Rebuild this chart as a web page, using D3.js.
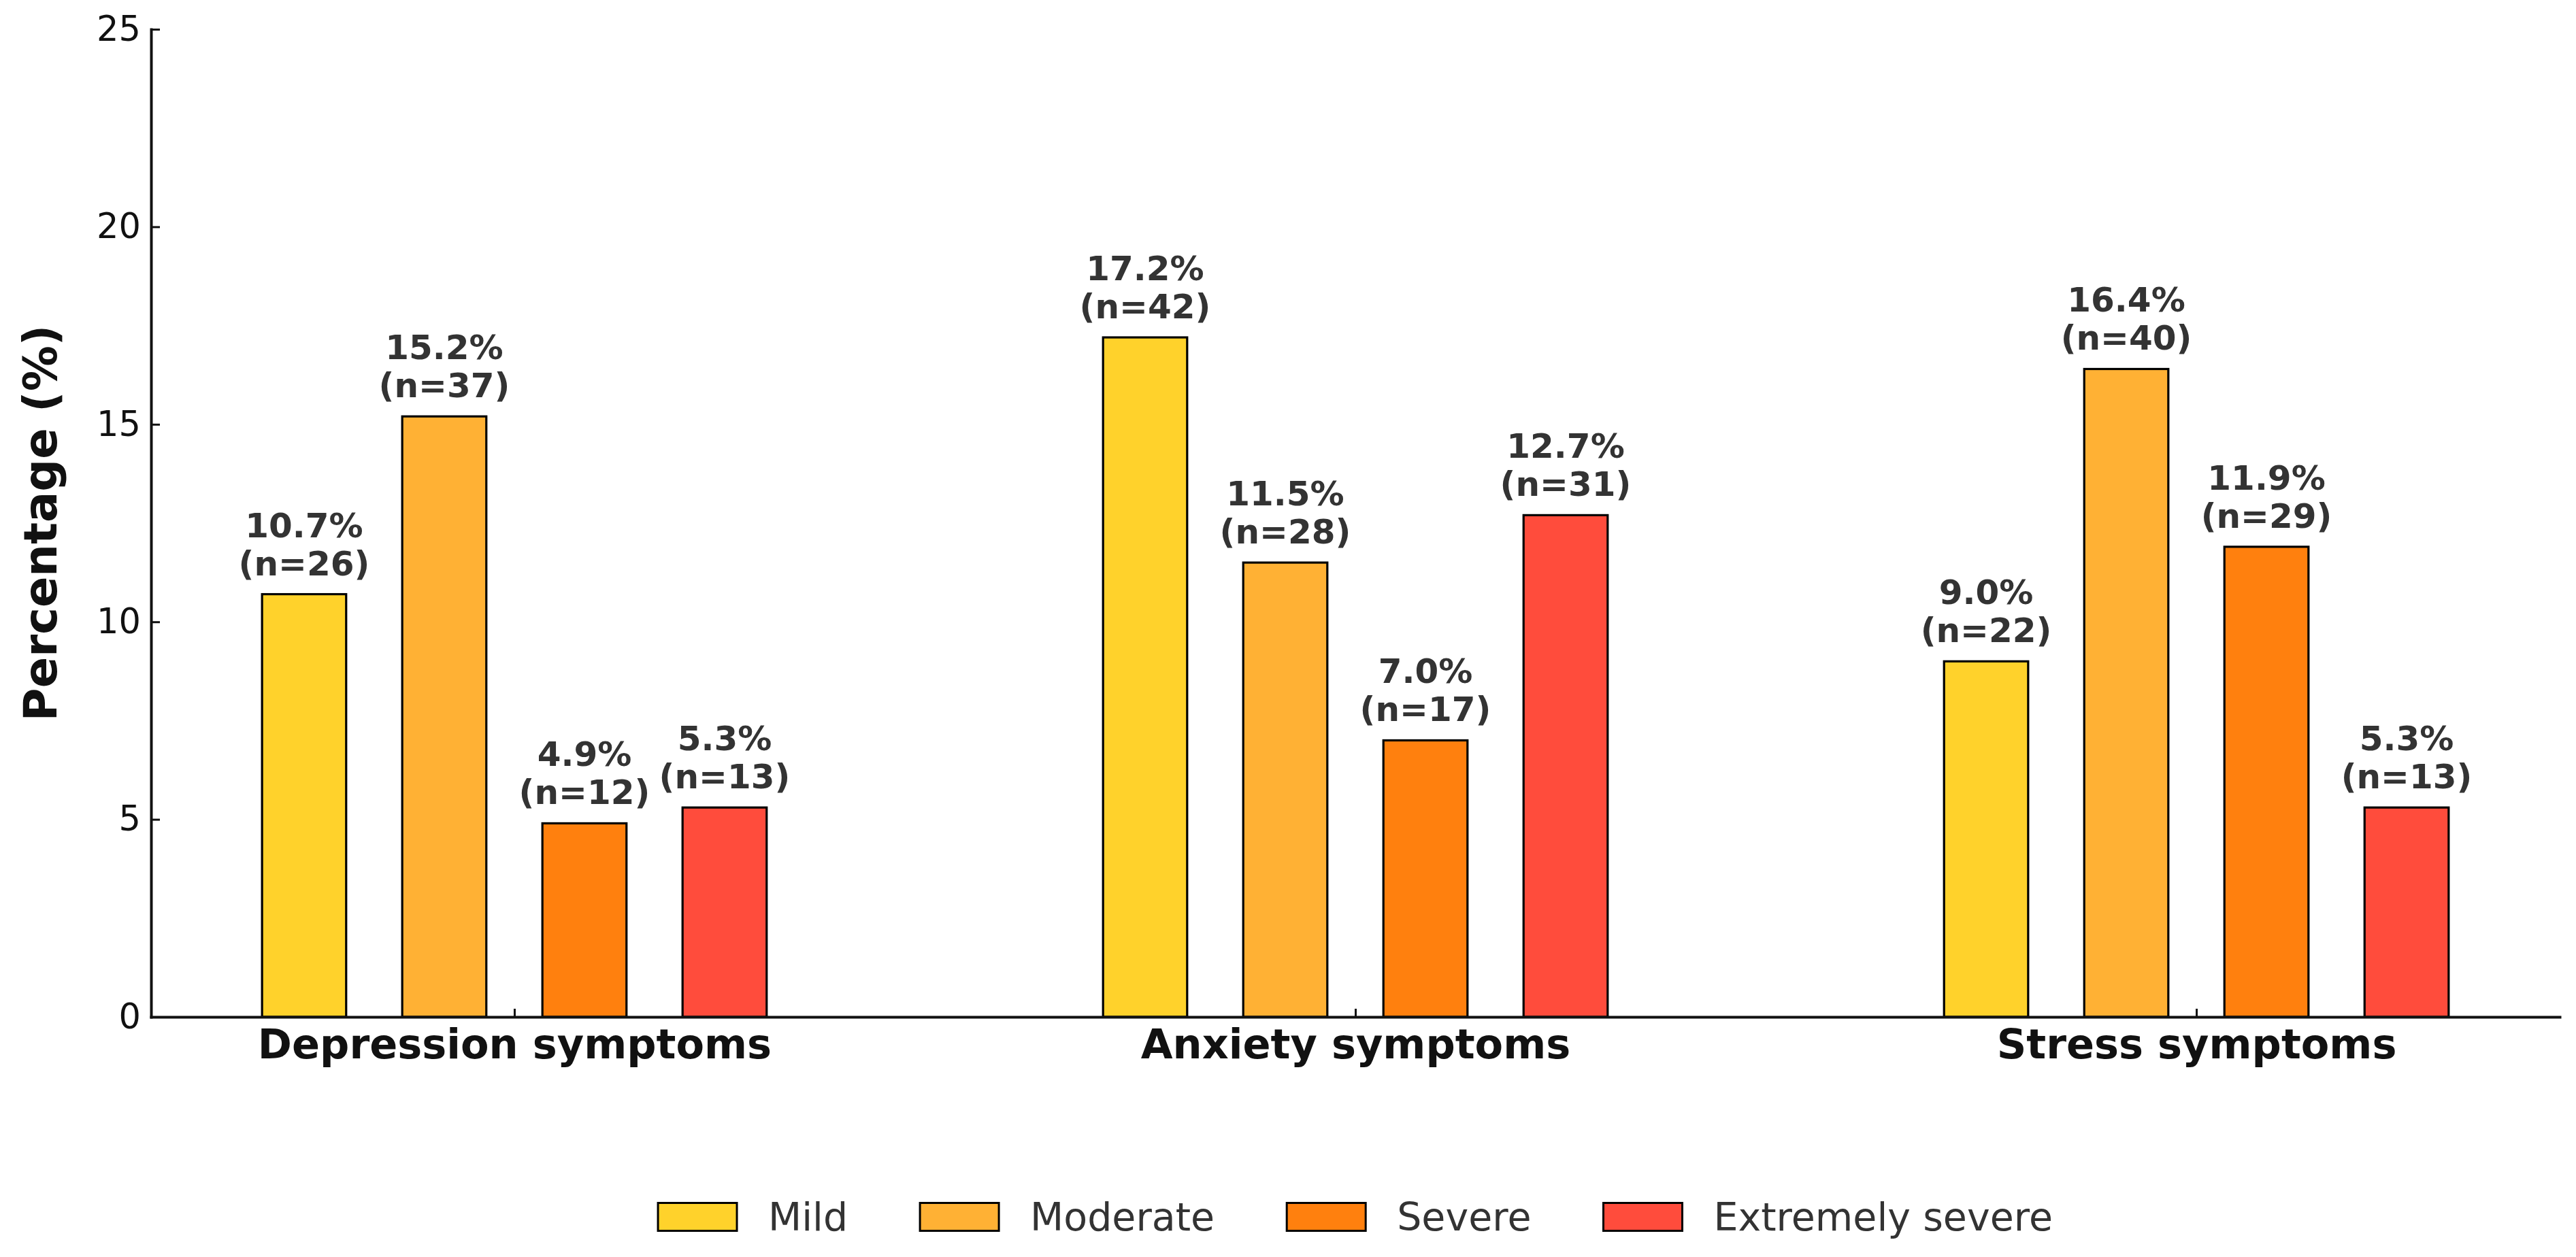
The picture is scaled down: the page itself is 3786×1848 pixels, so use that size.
<!DOCTYPE html>
<html>
<head>
<meta charset="utf-8">
<script src="https://cdn.jsdelivr.net/npm/d3@7/dist/d3.min.js"></script>
<style>
  html, body { margin: 0; padding: 0; background: #fff; }
  svg { display: block; font-family: "DejaVu Sans", sans-serif; }
</style>
</head>
<body>
<svg id="chart" width="3786" height="1848"></svg>
<script>
// ---- data ----
const groups = ["Depression symptoms", "Anxiety symptoms", "Stress symptoms"];
const series = ["Mild", "Moderate", "Severe", "Extremely severe"];
const colors = ["#FFD22B", "#FFB134", "#FF800E", "#FF4C3C"];
const mildValues      = [10.7, 17.2, 9.0];
const moderateValues  = [15.2, 11.5, 16.4];
const severeValues    = [4.9, 7.0, 11.9];
const extremeValues   = [5.3, 12.7, 5.3];
const mildCounts      = [26, 42, 22];
const moderateCounts  = [37, 28, 40];
const severeCounts    = [12, 17, 29];
const extremeCounts   = [13, 31, 13];
const yTicks = [0, 5, 10, 15, 20, 25];

const values = [mildValues, moderateValues, severeValues, extremeValues];
const counts = [mildCounts, moderateCounts, severeCounts, extremeCounts];

const svg = d3.select("#chart");
const mLeft = 222, mRight = 3762, mTop = 43, mBottom = 1495;

const x = d3.scaleLinear().domain([-0.432, 2.432]).range([mLeft, mRight]);
const y = d3.scaleLinear().domain([0, 25]).range([mBottom, mTop]);
const inner = d3.scaleBand().domain(series).range([-1/3, 1/3]).paddingInner(0.4).paddingOuter(0.2);

// flatten records
const records = [];
series.forEach((s, si) => {
  groups.forEach((g, gi) => {
    records.push({ s, si, g, gi, v: values[si][gi], n: counts[si][gi] });
  });
});
const cxOf = d => x(d.gi + inner(d.s) + inner.bandwidth() / 2);

// bars
svg.append("g").selectAll("rect").data(records).join("rect")
  .attr("x", d => x(d.gi + inner(d.s)))
  .attr("width", d => x(d.gi + inner(d.s) + inner.bandwidth()) - x(d.gi + inner(d.s)))
  .attr("y", d => y(d.v))
  .attr("height", d => y(0) - y(d.v))
  .attr("fill", d => colors[d.si])
  .attr("stroke", "#000")
  .attr("stroke-width", 3.2);

// value labels
const lab = svg.append("g").selectAll("text").data(records).join("text")
  .attr("x", cxOf)
  .attr("y", d => y(d.v) - 28)
  .attr("text-anchor", "middle")
  .attr("font-size", 50)
  .attr("font-weight", "bold")
  .attr("fill", "#333");
lab.append("tspan").attr("x", cxOf).attr("dy", -56)
  .text(d => d.v.toFixed(1) + "%");
lab.append("tspan").attr("x", cxOf).attr("dy", 56)
  .text(d => "(n=" + d.n + ")");

// y axis
const yAxis = svg.append("g").attr("transform", `translate(${mLeft},0)`)
  .call(d3.axisLeft(y).tickValues(yTicks).tickFormat(d3.format("d")).tickSizeInner(-13).tickSizeOuter(0).tickPadding(15));
yAxis.select(".domain").attr("stroke", "#111").attr("stroke-width", 4).attr("stroke-linecap", "square");
yAxis.selectAll(".tick line").attr("stroke", "#111").attr("stroke-width", 3);
yAxis.selectAll(".tick text").attr("font-size", 51).attr("fill", "#111").attr("font-family", "DejaVu Sans");

// x axis
const xAxis = svg.append("g").attr("transform", `translate(0,${mBottom})`)
  .call(d3.axisBottom(x).tickValues([0, 1, 2]).tickFormat(i => groups[i]).tickSizeInner(-12).tickSizeOuter(0));
xAxis.select(".domain").attr("stroke", "#111").attr("stroke-width", 4).attr("stroke-linecap", "square");
xAxis.selectAll(".tick line").attr("stroke", "#111").attr("stroke-width", 3);
xAxis.selectAll(".tick text").attr("font-size", 60.5).attr("font-weight", "bold").attr("fill", "#111")
  .attr("font-family", "DejaVu Sans").attr("dy", null).attr("y", 61);

// y title
svg.append("text")
  .attr("transform", `translate(83,${(mTop + mBottom) / 2}) rotate(-90)`)
  .attr("text-anchor", "middle")
  .attr("font-size", 67)
  .attr("font-weight", "bold")
  .attr("fill", "#111")
  .text("Percentage (%)");

// legend
const legFont = 57, patchW = 116, patchH = 41, textPad = 46, colSpace = 106;
const leg = svg.append("g");
const items = leg.selectAll("g").data(series).join("g");
items.append("rect")
  .attr("width", patchW).attr("height", patchH)
  .attr("y", 1789 - patchH / 2)
  .attr("fill", (d, i) => colors[i])
  .attr("stroke", "#000").attr("stroke-width", 3);
items.append("text")
  .attr("x", patchW + textPad).attr("y", 1809)
  .attr("font-size", legFont).attr("fill", "#333")
  .text(d => d);
const widths = [];
items.each(function() { widths.push(patchW + textPad + d3.select(this).select("text").node().getComputedTextLength()); });
const total = d3.sum(widths) + colSpace * (series.length - 1);
let cx = (mLeft + mRight) / 2 - total / 2;
items.each(function(d, i) {
  d3.select(this).attr("transform", `translate(${cx},0)`);
  cx += widths[i] + colSpace;
});
</script>
</body>
</html>
